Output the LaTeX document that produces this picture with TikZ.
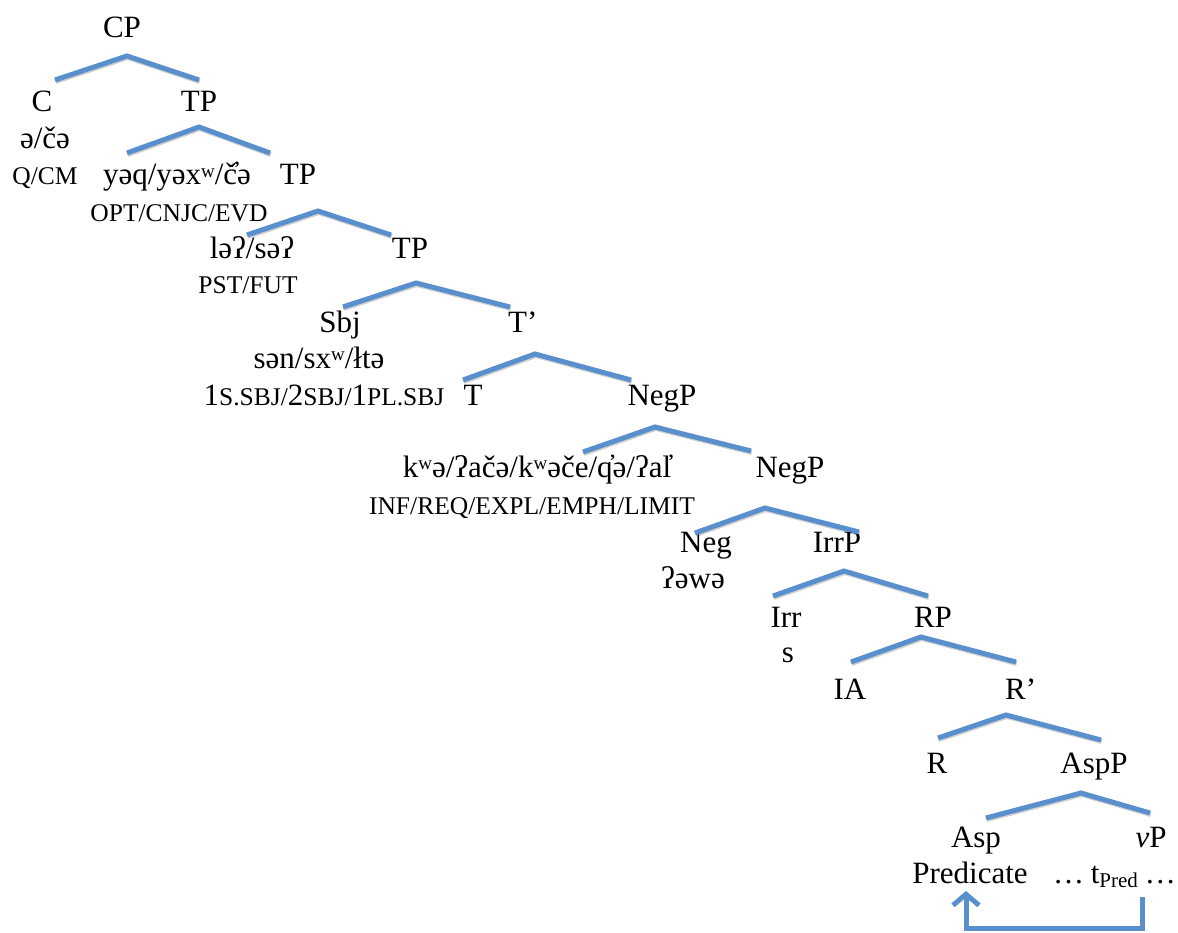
\documentclass[tikz,border=0pt]{standalone}
\usepackage{fontspec}
\setmainfont{Liberation Serif}
\usetikzlibrary{arrows.meta}
\definecolor{branch}{RGB}{88,143,204}
\newcommand\smc[1]{{\fontsize{25.5}{25.5}\selectfont #1}}
\newcommand\supw{\raisebox{0.55ex}{\fontsize{19}{19}\selectfont w}}
\newcommand\branch[4]{%
  \coordinate (#1-l) at (#2);
  \coordinate (#1-a) at (#3);
  \coordinate (#1-r) at (#4);
  \draw[br] (#1-l) -- (#1-a) -- (#1-r);}
\tikzset{
  br/.style={draw=branch, line width=5pt,
    preaction={draw=black, opacity=0.18, line width=5pt,
      transform canvas={shift={(0.8pt,-1.5pt)}}}},
  lbl/.style={anchor=base, inner sep=0pt, font=\fontsize{31}{31}\selectfont},
  lblw/.style={lbl, anchor=base west},
  lble/.style={lbl, anchor=base east},
  gl/.style={anchor=base, inner sep=0pt, font=\fontsize{25.5}{25.5}\selectfont},
}
\begin{document}
\begin{tikzpicture}[x=1pt,y=-1pt]
\useasboundingbox (0,0) rectangle (1178,933);
\fill[white] (0,0) rectangle (1178,933);

% labels
\node[lbl] (CP) at (122,38) {CP};
\node[lbl] (C) at (42,112) {C};
\node[lbl] (TP1) at (199,112) {TP};
\node[lbl] (Cm) at (45,149) {ə/čə};
\node[gl] (Cg) at (45,185) {Q/CM};
\node[lbl] (Em) at (177,185) {yəq/yəx\supw/č̓ə};
\node[lbl] (TP2) at (298,185) {TP};
\node[gl] (Eg) at (179,222) {OPT/CNJC/EVD};
\node[lbl] (Tm) at (252,259) {ləʔ/səʔ};
\node[lbl] (TP3) at (410,259) {TP};
\node[gl] (Tg) at (248,294) {PST/FUT};
\node[lbl] (Sbj) at (340,332) {Sbj};
\node[lblw] (Tbar) at (508,332) {T’};
\node[lbl] (Sm) at (319,368) {sən/sx\supw/łtə};
\node[lbl] (Sg) at (324,405) {1\smc{S.SBJ/}2\smc{SBJ/}1\smc{PL.SBJ}};
\node[lbl] (T) at (473,405) {T};
\node[lbl] (NegP1) at (662,405) {NegP};
\node[lbl] (Km) at (537,477) {k\supw ə/ʔačə/k\supw əče/q̓ə/ʔal̓};
\node[lbl] (NegP2) at (790,477) {NegP};
\node[gl] (Kg) at (532,514) {INF/REQ/EXPL/EMPH/LIMIT};
\node[lbl] (Neg) at (706,552) {Neg};
\node[lbl] (IrrP) at (837,552) {IrrP};
\node[lbl] (Negm) at (693,588) {ʔəwə};
\node[lbl] (Irr) at (786,627) {Irr};
\node[lbl] (RP) at (933,627) {RP};
\node[lbl] (Irrm) at (788,662) {s};
\node[lbl] (IA) at (850,699) {IA};
\node[lblw] (Rbar) at (1005,699) {R’};
\node[lbl] (R) at (937,773) {R};
\node[lbl] (AspP) at (1094,773) {AspP};
\node[lbl] (Asp) at (976,847) {Asp};
\node[lbl] (vP) at (1151,847) {\textit{v}P};
\node[lbl] (Pred) at (970,883) {Predicate};
\node[lble] (tP) at (1176,883) {…\hspace{0.22em}t\raisebox{-0.3ex}{\fontsize{21}{21}\selectfont Pred}\hspace{0.22em}…};

% branches
\branch{b1}{55,80}{127,56}{199,80}
\branch{b2}{127,153}{199,127}{270,153}
\branch{b3}{247,235}{318,211}{391,235}
\branch{b4}{343,307}{416,283}{510,307}
\branch{b5}{463,380}{535,354}{631,380}
\branch{b6}{583,452}{655,427}{751,451}
\branch{b7}{695,533}{765,508}{859,532}
\branch{b8}{773,596}{844,571}{928,596}
\branch{b9}{851,662}{921,637}{1016,662}
\branch{b10}{938,738}{1006,715}{1101,740}
\branch{b11}{986,818}{1081,793}{1150,813}

% movement arrow
\coordinate (mv-s) at (1142,897);
\coordinate (mv-e) at (966,891);
\draw[draw=branch, line width=5pt, -{Straight Barb[length=11pt,width=26pt]}]
  (mv-s) -- ++(0,31) -| (mv-e);
\end{tikzpicture}
\end{document}
